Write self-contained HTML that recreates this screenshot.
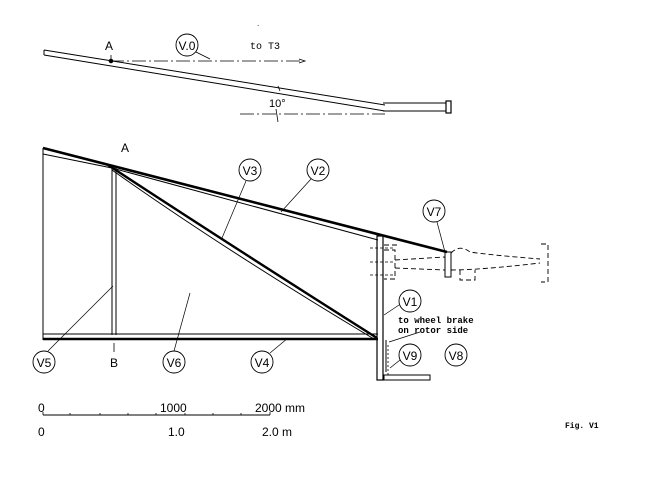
<!DOCTYPE html>
<html><head><style>html,body{margin:0;padding:0;background:#fff}svg{display:block}text{font-family:"Liberation Sans",sans-serif;fill:#000}text.m{font-family:"Liberation Mono",monospace}</style></head><body>
<svg width="672" height="480" viewBox="0 0 672 480" xmlns="http://www.w3.org/2000/svg" stroke="#000" fill="none">
<!-- top sketch -->
<line x1="44" y1="50" x2="385" y2="105" stroke-width="1"/>
<line x1="44" y1="55" x2="385" y2="111" stroke-width="1"/>
<line x1="44" y1="50" x2="44" y2="55"/>
<line x1="383" y1="103" x2="446" y2="103"/>
<line x1="383" y1="111" x2="446" y2="111"/>
<rect x="446" y="101" width="5" height="12" stroke-width="1.2"/>
<line x1="110" y1="61" x2="300" y2="61" stroke-dasharray="14,3,2,3" stroke-width="0.8"/>
<path d="M299 59 L305 61 L299 63" stroke-width="0.8"/>
<circle cx="111" cy="61" r="1.8" fill="#000"/>
<line x1="111" y1="55" x2="111" y2="59" stroke-width="0.8"/>
<line x1="240" y1="114" x2="385" y2="114" stroke-dasharray="14,3,2,3" stroke-width="0.8"/>
<line x1="276" y1="109" x2="278" y2="122" stroke-width="0.8"/>
<line x1="280" y1="91" x2="278" y2="86" stroke-width="0.8"/>
<circle cx="187" cy="45" r="11" stroke-width="0.9"/>
<line x1="196" y1="52" x2="210" y2="59" stroke-width="0.8"/>
<text x="187" y="50" font-size="12" text-anchor="middle" stroke="none">V.0</text>
<text x="105" y="50" font-size="12" stroke="none">A</text>
<text class="m" x="250" y="49" font-size="10" stroke="none">to T3</text>
<text x="269" y="107" font-size="11" stroke="none">10°</text>
<text x="257" y="26" font-size="8" stroke="none">.</text>
<!-- main frame -->
<line x1="43" y1="148" x2="447" y2="252" stroke-width="2.6"/>
<line x1="43" y1="154" x2="112" y2="168" stroke-width="1"/>
<line x1="112" y1="168" x2="378" y2="240" stroke-width="1"/>
<line x1="43" y1="148" x2="43" y2="340" stroke-width="1"/>
<line x1="43" y1="339" x2="378" y2="339" stroke-width="2.4"/>
<line x1="43" y1="334" x2="378" y2="334" stroke-width="1"/>
<line x1="112" y1="168" x2="112" y2="335" stroke-width="1"/>
<line x1="116" y1="168" x2="116" y2="335" stroke-width="1"/>
<path d="M108 165 Q230 245 377 338" stroke-width="2.4"/>
<path d="M112 170 Q225 250 374 339" stroke-width="1"/>
<rect x="377" y="236" width="6" height="144" stroke-width="1.2"/>
<rect x="384" y="375" width="46" height="5" stroke-width="1"/>
<line x1="388" y1="345" x2="388" y2="375" stroke-dasharray="2,2" stroke-width="0.8"/>
<line x1="386" y1="340" x2="386" y2="372" stroke-width="1"/>
<!-- right dashed part -->
<rect x="445" y="252" width="6" height="25" stroke-width="1"/>
<g stroke-dasharray="5,3" stroke-width="0.9">
<path d="M384 250 H395 V279 H384"/>
<line x1="395" y1="260" x2="445" y2="257"/>
<line x1="395" y1="268" x2="445" y2="270"/>
<path d="M451 253 Q460 244 470 252 Q490 255 540 259"/>
<path d="M451 270 Q480 270 540 263"/>
<path d="M460 270 V280 H475 V270"/>
<path d="M541 244 H548 V282 H541"/>
<line x1="384" y1="245" x2="397" y2="245"/>
</g>
<line x1="370" y1="248" x2="395" y2="248" stroke-dasharray="3,2" stroke-width="0.7"/>
<line x1="370" y1="262" x2="395" y2="262" stroke-dasharray="3,2" stroke-width="0.7"/>
<line x1="370" y1="275" x2="395" y2="275" stroke-dasharray="3,2" stroke-width="0.7"/>
<!-- labels -->
<g stroke-width="0.9">
<circle cx="250" cy="170" r="11"/><line x1="246" y1="181" x2="222" y2="238" stroke-width="0.7"/>
<circle cx="318" cy="170" r="11"/><line x1="311" y1="179" x2="281" y2="212" stroke-width="0.7"/>
<circle cx="434" cy="211" r="11"/><line x1="437" y1="222" x2="445" y2="252" stroke-width="0.7"/>
<circle cx="410" cy="301" r="11"/><line x1="399" y1="305" x2="384" y2="315" stroke-width="0.7"/>
<circle cx="410" cy="355" r="11"/><line x1="400" y1="360" x2="390" y2="368" stroke-width="0.7"/>
<circle cx="456" cy="355" r="11"/>
<circle cx="44" cy="362" r="11"/><line x1="48" y1="351" x2="113" y2="286" stroke-width="0.7"/>
<circle cx="174" cy="362" r="11"/><line x1="174" y1="351" x2="190" y2="293" stroke-width="0.7"/>
<circle cx="262" cy="362" r="11"/><line x1="270" y1="353" x2="288" y2="338" stroke-width="0.7"/>
<line x1="389" y1="342" x2="420" y2="332" stroke-width="0.7"/>
<line x1="114" y1="343" x2="114" y2="352" stroke-width="0.8"/>
</g>
<g stroke="none" font-size="12" text-anchor="middle">
<text x="250" y="175">V3</text><text x="318" y="175">V2</text><text x="434" y="216">V7</text>
<text x="410" y="306">V1</text><text x="410" y="360">V9</text><text x="456" y="360">V8</text>
<text x="44" y="367">V5</text><text x="174" y="367">V6</text><text x="262" y="367">V4</text>
<text x="114" y="367">B</text><text x="125" y="152">A</text>
</g>
<text class="m" x="398" y="323" font-size="9" stroke="none" font-weight="bold">to wheel brake</text>
<text class="m" x="398" y="333" font-size="9" stroke="none" font-weight="bold">on rotor side</text>
<!-- scale -->
<line x1="43" y1="415" x2="270" y2="415" stroke-width="1"/>
<g stroke-width="0.8">
<line x1="43" y1="412" x2="43" y2="415"/><line x1="70" y1="413" x2="70" y2="415"/><line x1="100" y1="413" x2="100" y2="415"/><line x1="128" y1="413" x2="128" y2="415"/><line x1="156" y1="413" x2="156" y2="415"/><line x1="185" y1="413" x2="185" y2="415"/><line x1="213" y1="413" x2="213" y2="415"/><line x1="241" y1="413" x2="241" y2="415"/><line x1="270" y1="412" x2="270" y2="415"/>
</g>
<g stroke="none" font-size="12">
<text x="38" y="412">0</text><text x="160" y="412">1000</text><text x="255" y="412">2000 mm</text>
<text x="38" y="436">0</text><text x="168" y="436">1.0</text><text x="262" y="436">2.0 m</text>
</g>
<text class="m" x="565" y="428" font-size="8" stroke="none" font-weight="bold">Fig. V1</text>
</svg>
</body></html>
